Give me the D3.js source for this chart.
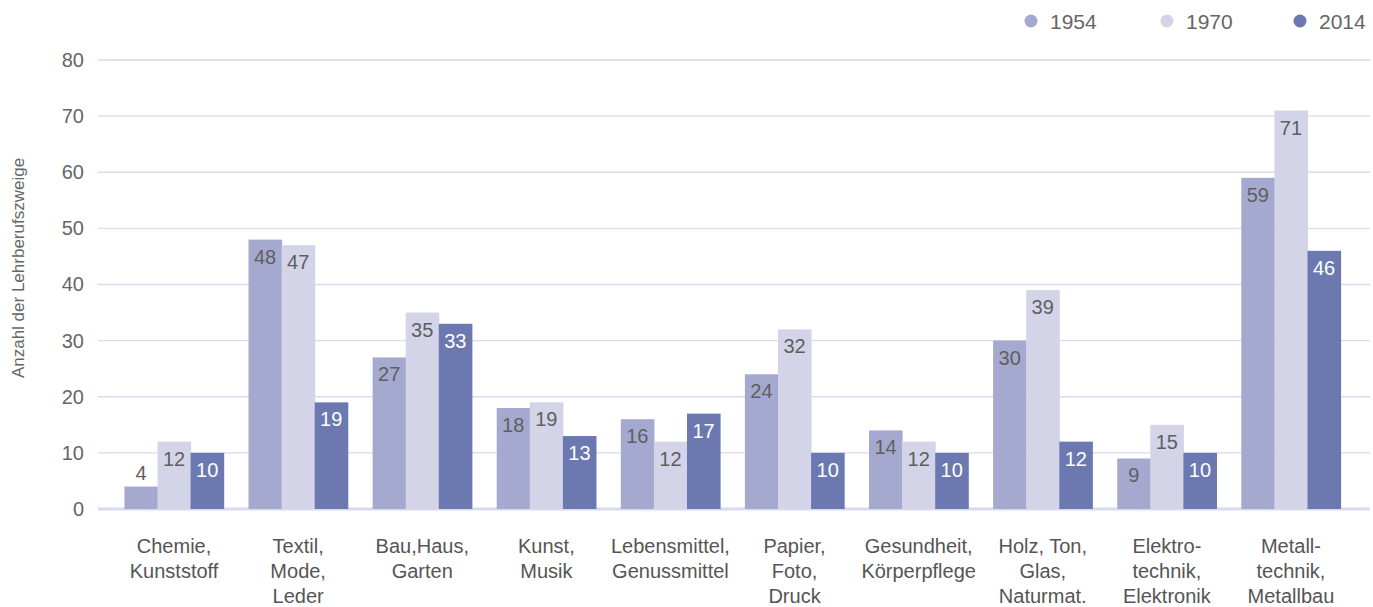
<!DOCTYPE html>
<html>
<head>
<meta charset="utf-8">
<script src="https://cdn.jsdelivr.net/npm/d3@7"></script>
<style>
  body { margin: 0; background: #fff; }
  svg text { font-family: "Liberation Sans", Arial, sans-serif; }
</style>
</head>
<body>
<svg width="1373" height="607"></svg>
<script>
const width = 1373;
const height = 607;

// data
const categories = [
  ["Chemie,", "Kunststoff"],
  ["Textil,", "Mode,", "Leder"],
  ["Bau,Haus,", "Garten"],
  ["Kunst,", "Musik"],
  ["Lebensmittel,", "Genussmittel"],
  ["Papier,", "Foto,", "Druck"],
  ["Gesundheit,", "Körperpflege"],
  ["Holz, Ton,", "Glas,", "Naturmat."],
  ["Elektro-", "technik,", "Elektronik"],
  ["Metall-", "technik,", "Metallbau"]
];
const years = ["1954", "1970", "2014"];
const v1954 = [4, 48, 27, 18, 16, 24, 14, 30, 9, 59];
const v1970 = [12, 47, 35, 19, 12, 32, 12, 39, 15, 71];
const v2014 = [10, 19, 33, 13, 17, 10, 10, 12, 10, 46];
const yTicks = [0, 10, 20, 30, 40, 50, 60, 70, 80];
const colors = ["#a6a9cf", "#d3d4e8", "#6b79b0"];
const labelColors = ["#5f5f5f", "#5f5f5f", "#ffffff"];

const series = [v1954, v1970, v2014];
const keys = categories.map(function (d) { return d.join(" "); });

var svg = d3.select("svg");

var x = d3.scaleBand()
    .domain(keys)
    .range([112, 1353])
    .paddingInner(0.2)
    .paddingOuter(0.1);

var x1 = d3.scaleBand()
    .domain(years)
    .range([0, x.bandwidth()]);

var y = d3.scaleLinear()
    .domain([0, 80])
    .range([509, 60]);

// gridlines
svg.append("g")
  .selectAll("line")
  .data(yTicks)
  .join("line")
    .attr("x1", 98)
    .attr("x2", 1370)
    .attr("y1", function (d) { return y(d); })
    .attr("y2", function (d) { return y(d); })
    .attr("stroke", "#d9d9f0")
    .attr("stroke-width", function (d) { return d === 0 ? 3 : 1.3; });

// y axis labels
var yAxis = svg.append("g")
    .attr("transform", "translate(84,0)")
    .call(d3.axisLeft(y).tickValues(yTicks).tickSize(0).tickPadding(0));
yAxis.select(".domain").remove();
yAxis.selectAll("text")
    .attr("font-size", "20px")
    .attr("fill", "#666")
    .attr("font-family", "Liberation Sans, Arial, sans-serif");

svg.append("text")
    .attr("transform", "translate(24,268) rotate(-90)")
    .attr("text-anchor", "middle")
    .attr("font-size", "17px")
    .attr("fill", "#666")
    .text("Anzahl der Lehrberufszweige");

// bars
var groups = svg.append("g")
  .selectAll("g")
  .data(keys)
  .join("g")
    .attr("transform", function (d) { return "translate(" + x(d) + ",0)"; });

groups.each(function (k, i) {
  var g = d3.select(this);
  years.forEach(function (yr, j) {
    var v = series[j][i];
    g.append("rect")
      .attr("x", x1(yr))
      .attr("width", x1.bandwidth() + 0.5)
      .attr("y", y(v))
      .attr("height", y(0) - y(v))
      .attr("fill", colors[j]);
    var inside = v >= 6;
    g.append("text")
      .attr("x", x1(yr) + x1.bandwidth() / 2)
      .attr("y", inside ? y(v) + 24 : y(v) - 7)
      .attr("text-anchor", "middle")
      .attr("font-size", "20px")
      .attr("fill", inside ? labelColors[j] : "#5f5f5f")
      .text(v);
  });
});

// category labels
var xl = svg.append("g")
  .selectAll("text")
  .data(categories)
  .join("text")
    .attr("text-anchor", "middle")
    .attr("font-size", "20px")
    .attr("fill", "#555")
    .attr("x", function (d, i) { return x(keys[i]) + x.bandwidth() / 2; })
    .attr("y", 553);
xl.each(function (lines) {
  var t = d3.select(this);
  lines.forEach(function (l, k) {
    t.append("tspan")
      .attr("x", t.attr("x"))
      .attr("dy", k === 0 ? 0 : 25)
      .text(l);
  });
});

// legend
var legendX = [1031, 1167, 1300];
var legend = svg.append("g")
  .selectAll("g")
  .data(years)
  .join("g")
    .attr("transform", function (d, i) { return "translate(" + legendX[i] + ",21)"; });
legend.append("circle")
    .attr("r", 6.5)
    .attr("fill", function (d, i) { return colors[i]; });
legend.append("text")
    .attr("x", 19)
    .attr("y", 8)
    .attr("font-size", "21px")
    .attr("fill", "#666")
    .text(function (d) { return d; });
</script>
</body>
</html>
